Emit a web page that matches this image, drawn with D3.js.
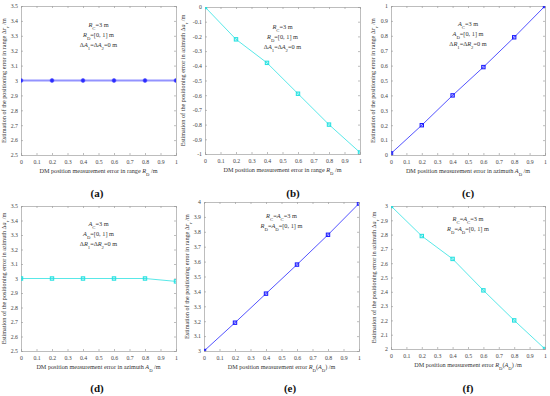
<!DOCTYPE html>
<meta charset="utf-8">
<script src="https://d3js.org/d3.v7.min.js"></script>
<style>
  body { margin: 0; background: #fff; }
  text { font-family: "Liberation Serif", "DejaVu Serif", serif; }
</style>
<div id="chart"></div>
<script>

// measurement error on the x axis (m)
var xs = [0, 0.2, 0.4, 0.6, 0.8, 1];

// estimated positioning error for each panel
var valsA = [3, 3, 3, 3, 3, 3];
var valsB = [0, -0.22, -0.38, -0.59, -0.80, -0.99];
var valsC = [0.01, 0.20, 0.40, 0.59, 0.79, 1.0];
var valsD = [3, 3, 3, 3, 3, 2.98];
var valsE = [3.0, 3.19, 3.385, 3.58, 3.78, 3.99];
var valsF = [3.0, 2.79, 2.63, 2.41, 2.20, 2.0];

var panelLabels = ["(a)", "(b)", "(c)", "(d)", "(e)", "(f)"];

var W = 550, H = 396;
var svg = d3.select("#chart").append("svg")
  .attr("width", W).attr("height", H);

var BLUE = "#1a1aff", CYAN = "#22e0e0";

// rich text pieces: [text, italic, sub]
var ylabR = [["Estimation of the positioning error in range Δ"], ["r", 1], ["r", 0, 1], [" /m"]];
var ylabA = [["Estimation of the positioning error in azimuth Δ"], ["a", 1], ["r", 0, 1], [" /m"]];
var xlabR = [["DM position measurement error in range "], ["R", 1], ["D", 0, 1], [" /m"]];
var xlabA = [["DM position measurement error in azimuth "], ["A", 1], ["D", 0, 1], [" /m"]];
var xlabRA = [["DM position measurement error "], ["R", 1], ["D", 0, 1], ["("], ["A", 1], ["D", 0, 1], [") /m"]];

var noteR = [
  [["R", 1], ["C", 0, 1], ["=3 m"]],
  [["R", 1], ["D", 0, 1], ["=[0, 1] m"]],
  [["Δ"], ["A", 1], ["1", 0, 1], ["=Δ"], ["A", 1], ["2", 0, 1], ["=0 m"]]
];
var noteA = [
  [["A", 1], ["C", 0, 1], ["=3 m"]],
  [["A", 1], ["D", 0, 1], ["=[0, 1] m"]],
  [["Δ"], ["R", 1], ["1", 0, 1], ["=Δ"], ["R", 1], ["2", 0, 1], ["=0 m"]]
];
var noteRA = [
  [["R", 1], ["C", 0, 1], ["="], ["A", 1], ["C", 0, 1], ["=3 m"]],
  [["R", 1], ["D", 0, 1], ["="], ["A", 1], ["D", 0, 1], ["=[0, 1] m"]]
];

var panels = [
  {vals: valsA, box: [21, 176, 6, 155], dom: [2.5, 3.5], color: "#3b3bff", lw: 2, mark: "circle", ylab: ylabR, xlab: xlabR, note: noteR, noteY: 27, labX: 97, yOff: 15},
  {vals: valsB, box: [205, 360, 7, 154], dom: [-1, 0], color: CYAN, lw: 1, mark: "square", ylab: ylabA, xlab: xlabR, note: noteR, noteY: 29, labX: 293, yOff: 20},
  {vals: valsC, box: [391, 545, 6, 155], dom: [0, 1], color: BLUE, lw: 1, mark: "square", ylab: ylabR, xlab: xlabA, note: noteA, noteY: 26, labX: 468, yOff: 16},
  {vals: valsD, box: [21, 176, 206, 351], dom: [2.5, 3.5], color: CYAN, lw: 1, mark: "square", ylab: ylabA, xlab: xlabA, note: noteA, noteY: 226, labX: 97, yOff: 15},
  {vals: valsE, box: [204, 359, 202, 351], dom: [3, 4], color: BLUE, lw: 1, mark: "square", ylab: ylabR, xlab: xlabRA, note: noteRA, noteY: 218, labX: 290, yOff: 15},
  {vals: valsF, box: [391, 545, 206, 349], dom: [2, 3], color: CYAN, lw: 1, mark: "square", ylab: ylabA, xlab: xlabRA, note: noteRA, noteY: 221, labX: 468, yOff: 15}
];

function rich(sel, parts, size) {
  parts.forEach(function(p) {
    var t = sel.append("tspan").text(p[0]);
    if (p[1]) t.style("font-style", "italic");
    if (p[2]) t.attr("baseline-shift", "sub").style("font-size", (size * 0.75) + "px");
  });
}

var fmt = function(d) { return String(+d.toFixed(1)); };

panels.forEach(function(p, i) {
  var L = p.box[0], R = p.box[1], T = p.box[2], B = p.box[3];
  var x = d3.scaleLinear().domain([0, 1]).range([L, R]);
  var y = d3.scaleLinear().domain(p.dom).range([B, T]);
  var g = svg.append("g");
  var xt = d3.range(0, 11).map(function(k) { return k / 10; });
  var yt = d3.range(0, 11).map(function(k) { return p.dom[0] + k / 10; });

  // axes with inward ticks (MATLAB style)
  var axes = [
    [d3.axisBottom(x).tickValues(xt).tickSize(-2).tickFormat(fmt), "translate(0," + B + ")"],
    [d3.axisTop(x).tickValues(xt).tickSize(-2).tickFormat(""), "translate(0," + T + ")"],
    [d3.axisLeft(y).tickValues(yt).tickSize(-2).tickFormat(fmt), "translate(" + L + ",0)"],
    [d3.axisRight(y).tickValues(yt).tickSize(-2).tickFormat(""), "translate(" + R + ",0)"]
  ];
  axes.forEach(function(a) {
    var ag = g.append("g").attr("transform", a[1]).call(a[0]);
    ag.selectAll("path, line").attr("stroke", "#a0a0a0").attr("stroke-width", 0.7);
    ag.selectAll("text").attr("fill", "#444").style("font-size", "5.8px");
  });
  g.selectAll(".tick text").each(function() {
    var t = d3.select(this);
    if (t.attr("y") !== null && +t.attr("y") > 0) t.attr("y", 5);
    if (t.attr("x") !== null && +t.attr("x") < 0) t.attr("x", -3);
  });

  var clipId = "clip" + i;
  svg.append("clipPath").attr("id", clipId).append("rect")
    .attr("x", L).attr("y", T).attr("width", R - L).attr("height", B - T);
  var plot = g.append("g").attr("clip-path", "url(#" + clipId + ")");

  var line = d3.line().x(function(d, k) { return x(xs[k]); }).y(function(d) { return y(d); });
  plot.append("path").datum(p.vals)
    .attr("d", line).attr("fill", "none")
    .attr("stroke", p.color).attr("stroke-width", p.lw)
    .attr("stroke-opacity", p.lw > 1 ? 0.55 : 0.75);

  if (p.mark === "circle") {
    plot.selectAll("circle").data(p.vals).join("circle")
      .attr("cx", function(d, k) { return x(xs[k]); })
      .attr("cy", function(d) { return y(d); })
      .attr("r", 2).attr("fill", "#2a2aff").attr("stroke", "#5555ff").attr("stroke-width", 0.6);
  } else {
    plot.selectAll("rect.m").data(p.vals).join("rect").attr("class", "m")
      .attr("x", function(d, k) { return x(xs[k]) - 1.7; })
      .attr("y", function(d) { return y(d) - 1.7; })
      .attr("width", 3.4).attr("height", 3.4)
      .attr("fill", p.color).attr("fill-opacity", 0.3)
      .attr("stroke", p.color).attr("stroke-width", 1);
  }

  // annotation block
  p.note.forEach(function(ln, k) {
    var t = g.append("text").attr("x", (L + R) / 2).attr("y", p.noteY + k * 10)
      .attr("text-anchor", "middle").attr("fill", "#333").style("font-size", "6.3px");
    rich(t, ln, 6.3);
  });

  // axis titles
  var xl = g.append("text").attr("x", (L + R) / 2).attr("y", B + 18)
    .attr("text-anchor", "middle").attr("fill", "#333").style("font-size", "6.2px");
  rich(xl, p.xlab, 6.2);
  var yl = g.append("text")
    .attr("transform", "translate(" + (L - p.yOff) + "," + ((T + B) / 2) + ") rotate(-90)")
    .attr("text-anchor", "middle").attr("fill", "#333").style("font-size", "6.2px");
  rich(yl, p.ylab, 6.2);

  // panel letter
  g.append("text").attr("x", p.labX).attr("y", i < 3 ? 197 : 392)
    .attr("text-anchor", "middle").attr("fill", "#111")
    .style("font-size", "11px").style("font-weight", "bold")
    .text(panelLabels[i]);
});
</script>
